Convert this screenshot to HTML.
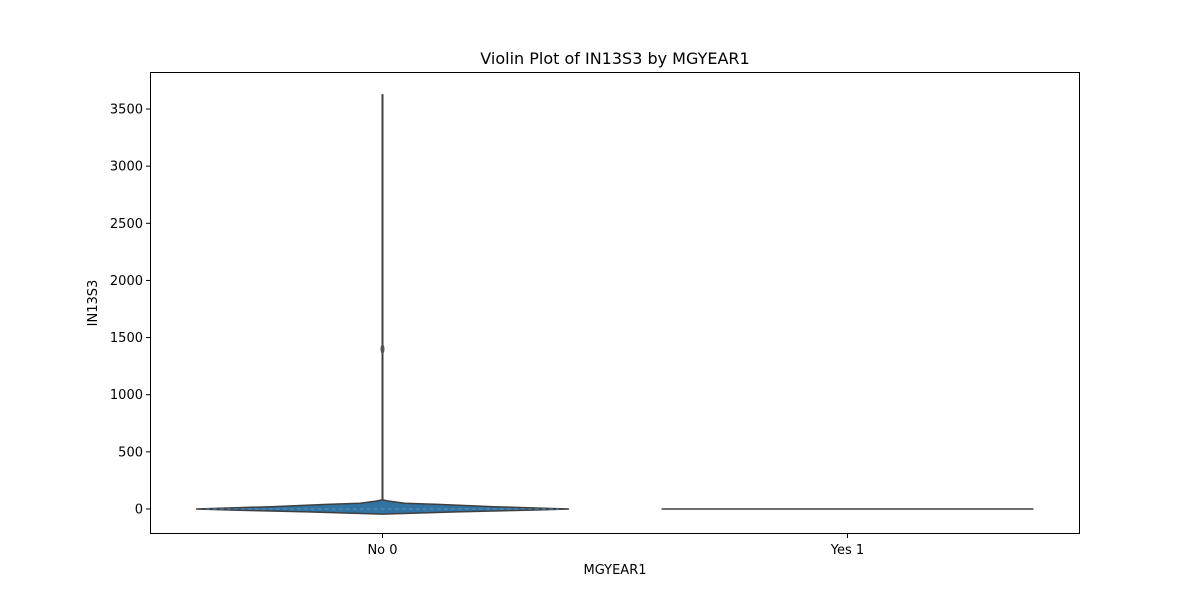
<!DOCTYPE html>
<html><head><meta charset="utf-8"><style>
body{margin:0;background:#fff;width:1200px;height:600px;overflow:hidden;font-family:"DejaVu Sans",sans-serif}
text{font-family:"DejaVu Sans",sans-serif;fill:#000}
</style></head><body>
<svg id="chart" width="1200" height="600" xmlns="http://www.w3.org/2000/svg">
<rect width="1200" height="600" fill="#fff"/>
<text x="615" y="64" font-size="16" text-anchor="middle">Violin Plot of IN13S3 by MGYEAR1</text>
<g id="marks"></g>
<g id="axes"></g>
<rect x="150.5" y="72.5" width="929" height="461" fill="none" stroke="#000" stroke-width="1"/>
<text x="615" y="574" font-size="13" text-anchor="middle">MGYEAR1</text>
<text transform="translate(97,303) rotate(-90)" font-size="13" text-anchor="middle">IN13S3</text>
</svg>
<script>
const categories = ["No 0", "Yes 1"];
const yTicks = [0, 500, 1000, 1500, 2000, 2500, 3000, 3500];
// density profile of "No 0": y value and relative half-width
const densY = [-45, -25, -10, 0, 20, 40, 50, 70, 80];
const densW = [0, 0.4, 0.8, 1, 0.6, 0.3, 0.12, 0.03, 0];
const maxVal = [3630, 0];
const medianVal = [1400, 0];
const q1 = [-10, 0];
const q3 = [10, 0];

const NS = "http://www.w3.org/2000/svg";
const x0 = 150, x1 = 1080, yTop = 72, yBot = 534;
const yMin = -219, yMax = 3824;
const ys = v => yBot - (v - yMin) / (yMax - yMin) * (yBot - yTop);
const band = (x1 - x0) / categories.length;
const xs = i => x0 + band * (i + 0.5);
const halfW = 186;
const marks = document.getElementById('marks');
const axes = document.getElementById('axes');
function mk(tag, attrs, parent) { const e = document.createElementNS(NS, tag); for (const k in attrs) e.setAttribute(k, attrs[k]); parent.appendChild(e); return e; }

yTicks.forEach(t => {
  const y = ys(t);
  const l = mk('line', {x1: 146, x2: 150, y1: y, y2: y, stroke: '#000'}, axes);
  
  
  const tx = mk('text', {x: 143, y: y + 4.5, 'font-size': 13, 'text-anchor': 'end'}, axes);
  tx.textContent = t;
  
  
});
categories.forEach((c, i) => {
  const x = xs(i);
  const l = mk('line', {x1: x, x2: x, y1: 534, y2: 538, stroke: '#000'}, axes);
  
  
  const tx = mk('text', {x: x, y: 554, 'font-size': 13, 'text-anchor': 'middle'}, axes);
  tx.textContent = c;
  
  
});

// violin 0
{
  const cx = xs(0);
  let right = densY.map((v, k) => [cx + densW[k] * halfW, ys(v)]);
  let left = densY.map((v, k) => [cx - densW[k] * halfW, ys(v)]).reverse();
  const pts = right.concat(left).map(p => p.join(',')).join(' ');
  const p = mk('polygon', {points: pts, fill: '#3274a1', stroke: '#3f3f3f', 'stroke-width': 1.5, 'stroke-linejoin': 'round'}, marks);
  
  
  const d = mk('line', {x1: cx - halfW * 0.95, x2: cx + halfW * 0.95, y1: ys(0), y2: ys(0), stroke: '#5b8fbf', 'stroke-dasharray': '4 3', 'stroke-width': 1}, marks);
  
  
  const w = mk('line', {x1: cx, x2: cx, y1: ys(densY[densY.length - 1]), y2: ys(maxVal[0]), stroke: '#3f3f3f', 'stroke-width': 2}, marks);
  
  
  const m = mk('ellipse', {cx: cx, cy: ys(medianVal[0]), rx: 2, ry: 5, fill: '#555'}, marks);
  
  
}
// violin 1 (flat)
{
  const cx = xs(1);
  const l = mk('line', {x1: cx - halfW, x2: cx + halfW, y1: ys(medianVal[1]), y2: ys(medianVal[1]), stroke: '#3f3f3f', 'stroke-width': 1.5}, marks);
  
  
}
</script>
</body></html>
